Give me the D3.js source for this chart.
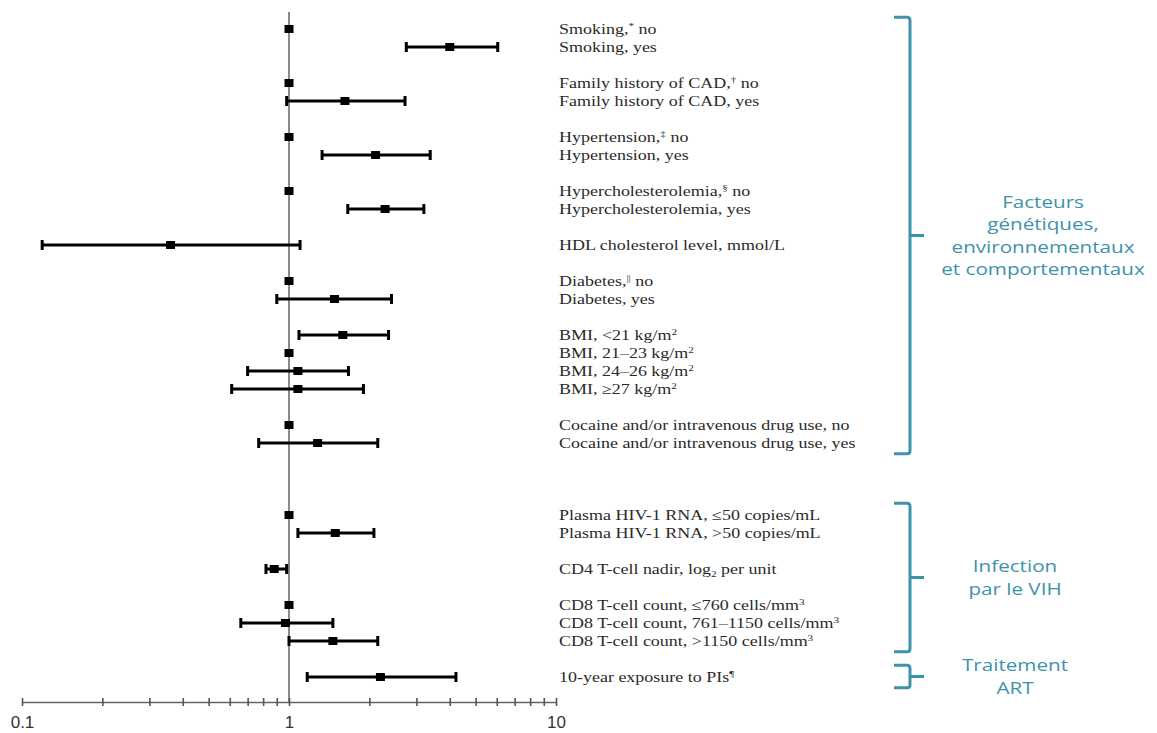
<!DOCTYPE html>
<html>
<head>
<meta charset="utf-8">
<script src="https://cdn.jsdelivr.net/npm/d3@7"></script>
<style>
  body { margin: 0; background: #fff; }
  svg { display: block; }
</style>
</head>
<body>
<script>
// rows of the forest plot, top to bottom
// "^x" / "^{xx}" = superscript, "_x" = subscript
var labels = [
  "Smoking,^* no",
  "Smoking, yes",
  "Family history of CAD,^† no",
  "Family history of CAD, yes",
  "Hypertension,^‡ no",
  "Hypertension, yes",
  "Hypercholesterolemia,^§ no",
  "Hypercholesterolemia, yes",
  "HDL cholesterol level, mmol/L",
  "Diabetes,^{||} no",
  "Diabetes, yes",
  "BMI, <21 kg/m^2",
  "BMI, 21–23 kg/m^2",
  "BMI, 24–26 kg/m^2",
  "BMI, ≥27 kg/m^2",
  "Cocaine and/or intravenous drug use, no",
  "Cocaine and/or intravenous drug use, yes",
  "Plasma HIV-1 RNA, ≤50 copies/mL",
  "Plasma HIV-1 RNA, >50 copies/mL",
  "CD4 T-cell nadir, log_2 per unit",
  "CD8 T-cell count, ≤760 cells/mm^3",
  "CD8 T-cell count, 761–1150 cells/mm^3",
  "CD8 T-cell count, >1150 cells/mm^3",
  "10-year exposure to PIs^¶"
];
// which variable each row belongs to (one blank slot when it changes)
var factor = [0,0, 1,1, 2,2, 3,3, 4, 5,5, 6,6,6,6, 7,7, 8,8, 9, 10,10,10, 11];
// which bracketed section each row belongs to
var section = [0,0,0,0,0,0,0,0,0,0,0,0,0,0,0,0,0, 1,1,1,1,1,1, 2];
// extra blank slots before each section
var sectionGap = [0, 2, 0];

var est = [1, 4.0, 1, 1.62, 1, 2.11, 1, 2.29, 0.36, 1, 1.48, 1.59, 1, 1.08, 1.08, 1, 1.28, 1, 1.49, 0.88, 1, 0.97, 1.46, 2.20];
var lo  = [null, 2.75, null, 0.98, null, 1.33, null, 1.66, 0.119, null, 0.90, 1.09, null, 0.70, 0.61, null, 0.77, null, 1.08, 0.82, null, 0.66, 1.0, 1.17];
var hi  = [null, 6.05, null, 2.72, null, 3.38, null, 3.20, 1.10, null, 2.42, 2.36, null, 1.67, 1.90, null, 2.15, null, 2.08, 0.98, null, 1.46, 2.15, 4.22];

var sectionNames = [
  ["Facteurs", "génétiques,", "environnementaux", "et comportementaux"],
  ["Infection", "par le VIH"],
  ["Traitement", "ART"]
];
var tickLabels = [0.1, 1, 10];

var width = 1157, height = 733;
var teal = "#3e92aa";

var svg = d3.select("body").append("svg")
  .attr("width", width)
  .attr("height", height);

// slot index for each row
var slots = [];
labels.forEach(function(d, i) {
  if (i === 0) { slots.push(0); return; }
  var s = slots[i - 1] + 1;
  if (factor[i] !== factor[i - 1]) s += 1;
  if (section[i] !== section[i - 1]) s += sectionGap[section[i]];
  slots.push(s);
});

var x = d3.scaleLog().domain([0.1, 10]).range([22, 556]);
var y = d3.scaleLinear().domain([0, 36]).range([29, 677]);

var rows = labels.map(function(d, i) {
  return {label: d, est: est[i], lo: lo[i], hi: hi[i], slot: slots[i], section: section[i]};
});

// reference line at 1
svg.append("line")
  .attr("x1", x(1)).attr("x2", x(1))
  .attr("y1", 12).attr("y2", 702)
  .attr("stroke", "#8a8a8a")
  .attr("stroke-width", 2);

// axis
var axis = d3.axisBottom(x)
  .tickValues(x.ticks())
  .tickSize(0)
  .tickPadding(14)
  .tickFormat(function(d) { return tickLabels.indexOf(d) >= 0 ? String(d) : ""; });

var gx = svg.append("g")
  .attr("transform", "translate(0,702)")
  .call(axis);
gx.select(".domain").attr("stroke", "#666").attr("stroke-width", 1.6);
gx.selectAll(".tick line")
  .attr("y1", -4).attr("y2", 4)
  .attr("stroke", "#555").attr("stroke-width", 1.6);
gx.selectAll(".tick text")
  .attr("fill", "#333")
  .style("font-family", "'Liberation Sans', Arial, sans-serif")
  .style("font-size", "17px");

// confidence intervals
var ci = rows.filter(function(d) { return d.lo != null; });
var g = svg.append("g");

g.selectAll("line.ci").data(ci).enter().append("line")
  .attr("class", "ci")
  .attr("x1", function(d) { return x(d.lo); })
  .attr("x2", function(d) { return x(d.hi); })
  .attr("y1", function(d) { return y(d.slot); })
  .attr("y2", function(d) { return y(d.slot); })
  .attr("stroke", "#000").attr("stroke-width", 3);

["lo", "hi"].forEach(function(k) {
  g.selectAll("rect.cap-" + k).data(ci).enter().append("rect")
    .attr("class", "cap-" + k)
    .attr("x", function(d) { return x(d[k]) - 1.5; })
    .attr("y", function(d) { return y(d.slot) - 5; })
    .attr("width", 3).attr("height", 10)
    .attr("fill", "#000");
});

g.selectAll("rect.pt").data(rows).enter().append("rect")
  .attr("class", "pt")
  .attr("x", function(d) { return x(d.est) - 4.5; })
  .attr("y", function(d) { return y(d.slot) - 4; })
  .attr("width", 9).attr("height", 8)
  .attr("fill", "#000");

// row labels
var lab = svg.append("g").selectAll("text").data(rows).enter().append("text")
  .attr("transform", function(d) { return "translate(559," + y(d.slot) + ") scale(1.24,1)"; })
  .attr("dy", "0.35em")
  .attr("fill", "#2a2a2a")
  .style("font-family", "'Liberation Serif', 'Times New Roman', serif")
  .style("font-size", "14.5px");

lab.each(function(d) {
  var t = d3.select(this);
  var parts = d.label.split(/(\^\{[^}]*\}|\^.|_.)/);
  var shift = 0;
  parts.forEach(function(p) {
    if (!p) return;
    if (p[0] === "^" || p[0] === "_") {
      var dy = p[0] === "^" ? -5 : 3;
      var txt = p[1] === "{" ? p.slice(2, -1) : p[1];
      t.append("tspan").attr("dy", dy).style("font-size", "9px").text(txt);
      shift = -dy;
    } else {
      var ts = t.append("tspan").text(p);
      if (shift) { ts.attr("dy", shift); shift = 0; }
    }
  });
});

// section brackets
var sections = sectionNames.map(function(names, s) {
  var r = rows.filter(function(d) { return d.section === s; });
  var top = y(r[0].slot - 0.65), bot = y(r[r.length - 1].slot + 0.6);
  return {names: names, top: top, bot: bot, mid: (top + bot) / 2, s: s};
});

var bx0 = 894, bx1 = 910, bx2 = 924;
svg.append("g").selectAll("path").data(sections).enter().append("path")
  .attr("d", function(d) {
    return "M" + bx0 + "," + d.top + " H" + (bx1 - 3) + " Q" + bx1 + "," + d.top + " " + bx1 + "," + (d.top + 3) +
      " V" + (d.bot - 3) + " Q" + bx1 + "," + d.bot + " " + (bx1 - 3) + "," + d.bot + " H" + bx0 +
      " M" + bx1 + "," + d.mid + " H" + bx2;
  })
  .attr("fill", "none")
  .attr("stroke", teal)
  .attr("stroke-width", 3);

svg.append("g").selectAll("text").data(sections).enter().append("text")
  .attr("transform", function(d) {
    var cx = d.s === 0 ? 1043 : 1015;
    return "translate(" + cx + "," + d.mid + ") scale(1.25,1)";
  })
  .attr("text-anchor", "middle")
  .attr("fill", teal)
  .style("font-family", "'Open Sans', sans-serif")
  .style("font-size", "16.5px")
  .each(function(d) {
    var t = d3.select(this);
    var n = d.names.length, lh = 22.5;
    d.names.forEach(function(line, i) {
      t.append("tspan")
        .attr("x", 0)
        .attr("y", (i - (n - 1) / 2) * lh)
        .attr("dy", "0.35em")
        .text(line);
    });
  });
</script>
</body>
</html>
